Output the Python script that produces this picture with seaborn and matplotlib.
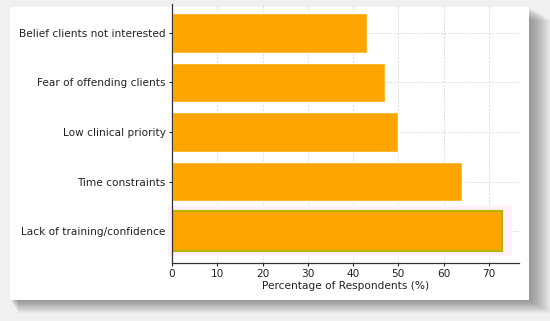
import matplotlib
matplotlib.use("Agg")
import matplotlib.pyplot as plt
import seaborn as sns
import pandas as pd
from matplotlib.patches import Rectangle

# ====================== DATA ======================
barriers = [
    "Belief clients not interested",
    "Fear of offending clients",
    "Low clinical priority",
    "Time constraints",
    "Lack of training/confidence",
]
percent = [43, 47, 50, 64, 73]

df = pd.DataFrame({"barrier": barriers, "percent": percent})

sns.set_style("white")
plt.rcParams["font.family"] = ["DejaVu Sans"]

W, H = 550, 321
fig = plt.figure(figsize=(5.5, 3.21), dpi=100, facecolor="#f0f0f0")

# screenshot-like card with a soft drop shadow
x0, y0, x1, y1 = 10, 7, 529, 300   # card in pixels (from top-left)
for i in range(14, 0, -1):
    fig.patches.append(Rectangle(((x0 + i * 0.6) / W, 1 - (y1 + i * 0.9) / H),
                                 (x1 - x0 + i * 0.9) / W, (y1 - y0) / H,
                                 transform=fig.transFigure, facecolor="#555555",
                                 alpha=0.05, edgecolor="none", zorder=-3))
fig.patches.append(Rectangle((x0 / W, 1 - y1 / H), (x1 - x0) / W, (y1 - y0) / H,
                             transform=fig.transFigure, facecolor="white",
                             edgecolor="none", zorder=-2))

ax = fig.add_axes([172 / W, 1 - 263 / H, (519 - 172) / W, (263 - 4) / H])
ax.set_facecolor("none")
ax.set_zorder(2)

sns.barplot(data=df, x="percent", y="barrier", orient="h", color="orange",
            saturation=1, width=0.8, ax=ax, zorder=2)

# bottom bar has an olive rim and a faint pink halo in the original
last = ax.patches[-1]
last.set_edgecolor("#b5b500")
last.set_linewidth(1.6)
bx, by = last.get_x(), last.get_y()
bw, bh = last.get_width(), last.get_height()
halo = Rectangle((bx - 0.8, by - 0.1), bw + 2.8, bh + 0.2,
                 facecolor="#fef1fb", edgecolor="none", zorder=1.5, clip_on=False)
ax.add_patch(halo)

ax.set_xlim(0, 76.65)
ax.set_ylim(4.64, -0.58)
ax.set_xticks(range(0, 80, 10))
ax.grid(True, linestyle=(0, (2, 1.5)), color="#dcdcdc", linewidth=0.7, zorder=0)
ax.set_axisbelow(True)
for s in ["top", "right"]:
    ax.spines[s].set_visible(False)
for s in ["left", "bottom"]:
    ax.spines[s].set_color("#333333")
    ax.spines[s].set_linewidth(0.9)
    ax.spines[s].set_zorder(3)
ax.tick_params(axis="both", labelsize=7.6, colors="#222222", length=2.5, width=0.8,
               left=True, bottom=True, pad=2)
ax.set_ylabel("")
ax.set_xlabel("Percentage of Respondents (%)", fontsize=7.6, color="#222222", labelpad=1)

fig.savefig("out.png", dpi=100, facecolor=fig.get_facecolor())
